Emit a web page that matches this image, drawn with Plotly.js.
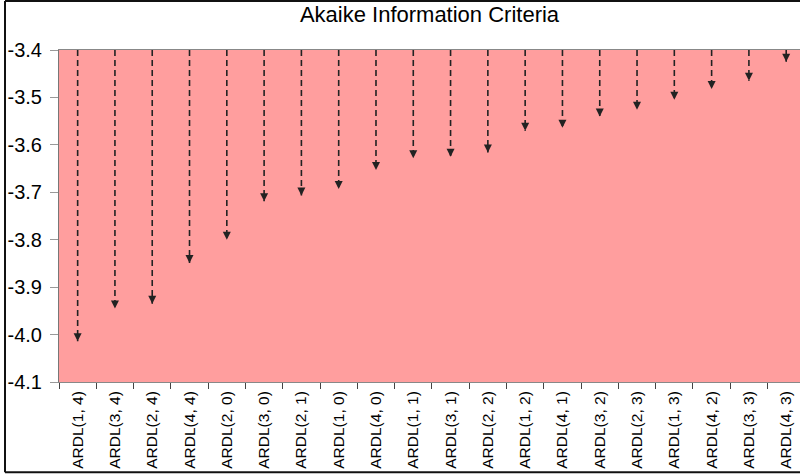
<!DOCTYPE html>
<html>
<head>
<meta charset="utf-8">
<script src="https://cdn.plot.ly/plotly-3.0.1.min.js"></script>
<style>
html,body{margin:0;padding:0;background:#fff;}
#chart{width:800px;height:476px;}
</style>
</head>
<body>
<div id="chart"></div>
<script>
// Models sorted by AIC
var models = ["ARDL(1, 4)","ARDL(3, 4)","ARDL(2, 4)","ARDL(4, 4)","ARDL(2, 0)","ARDL(3, 0)","ARDL(2, 1)","ARDL(1, 0)","ARDL(4, 0)","ARDL(1, 1)","ARDL(3, 1)","ARDL(2, 2)","ARDL(1, 2)","ARDL(4, 1)","ARDL(3, 2)","ARDL(2, 3)","ARDL(1, 3)","ARDL(4, 2)","ARDL(3, 3)","ARDL(4, 3)"];
var aic = [-4.014,-3.945,-3.935,-3.849,-3.800,-3.719,-3.707,-3.693,-3.653,-3.628,-3.625,-3.616,-3.570,-3.564,-3.540,-3.526,-3.505,-3.482,-3.465,-3.425];
var baseline = -3.4;
var yTicks = [-3.4,-3.5,-3.6,-3.7,-3.8,-3.9,-4.0,-4.1];

var lx = [], ly = [];
models.forEach(function(m, i){
  lx.push(m, m, null);
  ly.push(baseline, aic[i], null);
});

var traces = [{
  type: 'scatter', mode: 'lines', x: lx, y: ly,
  line: {color: '#222', width: 1.6, dash: '6px,4px'},
  connectgaps: false, hoverinfo: 'skip', showlegend: false
}];

var annotations = models.map(function(m, i){
  return {x: m, y: aic[i], xref: 'x', yref: 'y', text: '', showarrow: true,
          arrowhead: 2, arrowsize: 1, arrowwidth: 1.6, arrowcolor: '#222',
          ax: 0, ay: -7, standoff: 0};
});

// plot area in px: x 59..800, y 50..382.5
var pw = 741, ph = 332.5;
function px(x){ return (x - 59) / pw; }
function py(y){ return (382.5 - y) / ph; }
var frame = {color: '#111', width: 2};
var shapes = [
  {type:'line', xref:'paper', yref:'paper', x0:px(5), x1:px(800), y0:py(1), y1:py(1), line: frame},
  {type:'line', xref:'paper', yref:'paper', x0:px(5), x1:px(5), y0:py(1), y1:py(473), line: frame},
  {type:'line', xref:'paper', yref:'paper', x0:px(5), x1:px(800), y0:py(473), y1:py(473), line: frame}
];

var layout = {
  width: 800, height: 476,
  margin: {l: 59, r: 0, t: 50, b: 93.5},
  paper_bgcolor: '#fff',
  plot_bgcolor: '#ff9e9e',
  title: {text: 'Akaike Information Criteria', x: 0.5, xref: 'paper', xanchor: 'center',
          y: 1 - 14/476, yref: 'container', yanchor: 'middle',
          font: {family: 'Arial, Liberation Sans, sans-serif', size: 22, color: '#000'}},
  xaxis: {type: 'category', categoryarray: models, range: [-0.5, 19.37],
          tickangle: -90, ticks: 'outside', ticklen: 6, tickcolor: '#444', tickwidth: 1,
          tickson: 'boundaries', showgrid: false, zeroline: false,
          showline: true, linecolor: '#888', linewidth: 1, mirror: true,
          ticklabelstandoff: 2,
          tickfont: {family: 'Arial, Liberation Sans, sans-serif', size: 15.5, color: '#000'}},
  yaxis: {range: [-4.1, -3.4], tickvals: yTicks, ticktext: yTicks.map(function(v){return v.toFixed(1);}),
          ticks: 'outside', ticklen: 8, tickcolor: '#999', tickwidth: 1,
          showgrid: false, zeroline: false, showline: true, linecolor: '#777', linewidth: 1,
          ticklabelstandoff: 4,
          tickfont: {family: 'Arial, Liberation Sans, sans-serif', size: 20, color: '#000'}},
  annotations: annotations,
  shapes: shapes,
  showlegend: false
};

Plotly.newPlot('chart', traces, layout, {displayModeBar: false, staticPlot: true});
</script>
</body>
</html>
